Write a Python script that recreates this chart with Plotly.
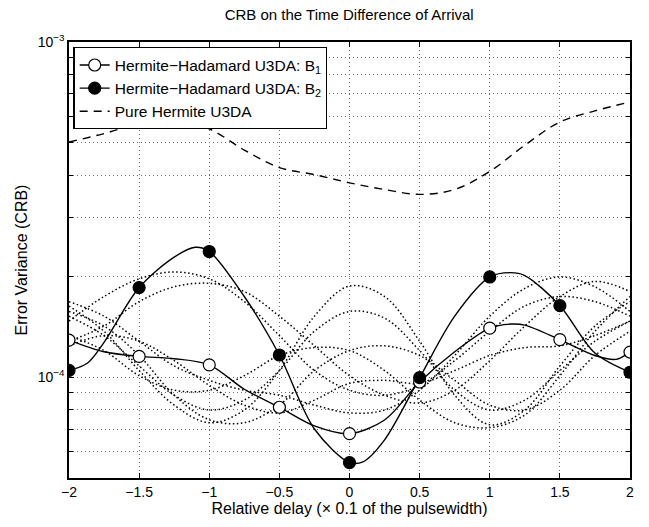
import plotly.graph_objects as go

# ---------------- data ----------------
x_fine = [-2, -1.75, -1.5, -1.25, -1, -0.75, -0.5, -0.25, 0, 0.25, 0.5, 0.75, 1, 1.25, 1.5, 1.75, 2]
x_mark = [-2, -1.5, -1, -0.5, 0, 0.5, 1, 1.5, 2]

# Hermite-Hadamard U3DA: B1 (curve and markers)
b1_x = [-2, -1.75, -1.5, -1.25, -1, -0.75, -0.5, -0.25, 0, 0.25, 0.5, 0.75, 1, 1.15, 1.25, 1.5, 1.75, 1.9, 2]
b1_y = [1.29e-4, 1.19e-4, 1.153e-4, 1.135e-4, 1.088e-4, 0.92e-4, 0.813e-4, 0.715e-4, 0.678e-4, 0.745e-4,
        0.967e-4, 1.19e-4, 1.40e-4, 1.44e-4, 1.43e-4, 1.294e-4, 1.16e-4, 1.13e-4, 1.188e-4]
b1_mark = [1.29e-4, 1.153e-4, 1.088e-4, 0.813e-4, 0.678e-4, 0.967e-4, 1.40e-4, 1.294e-4, 1.188e-4]

# Hermite-Hadamard U3DA: B2 (curve and markers)
b2_x = [-2, -1.87, -1.75, -1.5, -1.25, -1.1, -1, -0.75, -0.5, -0.25, 0, 0.1, 0.25, 0.5, 0.75, 1, 1.15, 1.25, 1.5, 1.75, 2]
b2_y = [1.047e-4, 1.10e-4, 1.27e-4, 1.85e-4, 2.28e-4, 2.44e-4, 2.37e-4, 1.74e-4, 1.164e-4, 0.70e-4, 0.556e-4,
        0.56e-4, 0.65e-4, 0.996e-4, 1.52e-4, 1.99e-4, 2.05e-4, 2.01e-4, 1.634e-4, 1.18e-4, 1.034e-4]
b2_mark = [1.047e-4, 1.85e-4, 2.37e-4, 1.164e-4, 0.556e-4, 0.996e-4, 1.99e-4, 1.634e-4, 1.034e-4]

# Pure Hermite U3DA (dashed)
ph_y = [5.03e-4, 5.33e-4, 5.71e-4, 5.90e-4, 5.51e-4, 4.76e-4, 4.22e-4, 4.02e-4, 3.80e-4, 3.63e-4,
        3.51e-4, 3.63e-4, 4.11e-4, 4.92e-4, 5.77e-4, 6.23e-4, 6.62e-4]

# dotted family of curves (values x 1e-4)
d1 = [1.47, 1.74, 1.965, 2.06, 1.965, 1.68, 1.33, 1.046, 0.914, 0.883, 0.945, 1.12, 1.37, 1.63, 1.74, 1.68, 1.52]
d2 = [1.28, 1.42, 1.68, 1.86, 1.905, 1.80, 1.52, 1.24, 1.01, 0.883, 0.837, 0.914, 1.12, 1.42, 1.74, 1.93, 1.80]
d3 = [1.63, 1.37, 1.046, 0.825, 0.731, 0.798, 1.046, 1.52, 1.87, 1.74, 1.28, 0.883, 0.721, 0.798, 1.08, 1.42, 1.68]
d4 = [1.52, 1.33, 1.08, 0.883, 0.798, 0.854, 1.046, 1.37, 1.57, 1.50, 1.20, 0.914, 0.798, 0.854, 1.046, 1.28, 1.47]
d5 = [1.57, 1.42, 1.16, 0.883, 0.746, 0.731, 0.825, 1.046, 1.20, 1.24, 1.16, 0.978, 0.825, 0.798, 0.914, 1.16, 1.37]
d6 = [1.24, 1.33, 1.28, 1.12, 0.945, 0.825, 0.782, 0.854, 0.958, 0.978, 0.958, 1.046, 1.16, 1.225, 1.24, 1.33, 1.47]
d7 = [1.33, 1.20, 1.01, 0.914, 0.914, 1.01, 1.16, 1.225, 1.20, 1.046, 0.854, 0.731, 0.707, 0.771, 1.01, 1.37, 1.74]
d8 = [1.68, 1.52, 1.28, 1.08, 0.978, 0.914, 0.883, 0.825, 0.782, 0.798, 0.914, 1.16, 1.52, 1.84, 1.99, 1.86, 1.57]
dotted = [d1, d2, d3, d4, d5, d6, d7, d8]

x_ticks = [-2, -1.5, -1, -0.5, 0, 0.5, 1, 1.5, 2]
x_ticktext = ["−2", "−1.5", "−1", "−0.5", "0", "0.5", "1", "1.5", "2"]
y_major = [1e-4, 1e-3]
y_major_text = ["10<sup>−4</sup>", "10<sup>−3</sup>"]
y_minor = [5e-5, 6e-5, 7e-5, 8e-5, 9e-5, 2e-4, 3e-4, 4e-4, 5e-4, 6e-4, 7e-4, 8e-4, 9e-4]

FONT = "Liberation Sans, Arial, Helvetica, sans-serif"
GRID_DASH = "1px,3px"
GRID_COLOR = "#6e6e6e"

fig = go.Figure()

for d in dotted:
    fig.add_trace(go.Scatter(x=x_fine, y=[v * 1e-4 for v in d], mode="lines",
                             line=dict(color="black", width=1.5, dash="1.5px,2.5px", shape="spline", smoothing=1.0),
                             showlegend=False, hoverinfo="skip"))

fig.add_trace(go.Scatter(x=x_fine, y=ph_y, mode="lines",
                         line=dict(color="black", width=1.4, dash="8px,6px", shape="spline"),
                         showlegend=False))

fig.add_trace(go.Scatter(x=b1_x, y=b1_y, mode="lines",
                         line=dict(color="black", width=1.4, shape="spline", smoothing=0.9),
                         showlegend=False))
fig.add_trace(go.Scatter(x=b2_x, y=b2_y, mode="lines",
                         line=dict(color="black", width=1.4, shape="spline", smoothing=0.9),
                         showlegend=False))

fig.add_trace(go.Scatter(x=x_mark, y=b1_mark, mode="markers",
                         marker=dict(size=12, color="white", line=dict(color="black", width=1.2)),
                         showlegend=False))
fig.add_trace(go.Scatter(x=x_mark, y=b2_mark, mode="markers",
                         marker=dict(size=12, color="black", line=dict(color="black", width=1.2)),
                         showlegend=False))

# legend entries
fig.add_trace(go.Scatter(x=[None], y=[None], mode="lines+markers",
                         name="Hermite−Hadamard U3DA: B<sub>1</sub>",
                         line=dict(color="black", width=1.4),
                         marker=dict(size=12, color="white", line=dict(color="black", width=1.2))))
fig.add_trace(go.Scatter(x=[None], y=[None], mode="lines+markers",
                         name="Hermite−Hadamard U3DA: B<sub>2</sub>",
                         line=dict(color="black", width=1.4),
                         marker=dict(size=12, color="black", line=dict(color="black", width=1.2))))
fig.add_trace(go.Scatter(x=[None], y=[None], mode="lines",
                         name="Pure Hermite U3DA",
                         line=dict(color="black", width=1.4, dash="8px,6px")))

fig.update_layout(
    width=649, height=527,
    margin=dict(l=69, r=19, t=42, b=43),
    paper_bgcolor="white", plot_bgcolor="white",
    font=dict(family=FONT, size=14, color="black"),
    title=dict(text="CRB on the Time Difference of Arrival", x=0.538, xanchor="center",
               y=0.972, yanchor="middle", yref="container", font=dict(size=15)),
    showlegend=True,
    legend=dict(x=0.008, y=0.988, xanchor="left", yanchor="top", bgcolor="white",
                bordercolor="black", borderwidth=1.2, font=dict(size=15.5),
                tracegroupgap=0, itemwidth=30),
)

fig.update_xaxes(range=[-2, 2], tickvals=x_ticks, ticktext=x_ticktext,
                 showline=True, linecolor="black", linewidth=1.5, mirror="allticks",
                 ticks="inside", ticklen=5, tickcolor="black",
                 showgrid=True, gridcolor=GRID_COLOR, griddash=GRID_DASH, gridwidth=1, zeroline=False,
                 title=dict(text="Relative delay (× 0.1 of the pulsewidth)", standoff=4,
                            font=dict(size=16)),
                 tickfont=dict(size=14))

fig.update_yaxes(type="log", range=[-4.30103, -3], tickvals=y_major, ticktext=y_major_text,
                 showline=True, linecolor="black", linewidth=1.5, mirror="allticks",
                 ticks="inside", ticklen=5, tickcolor="black",
                 showgrid=True, gridcolor=GRID_COLOR, griddash=GRID_DASH, gridwidth=1, zeroline=False,
                 minor=dict(tickmode="array", tickvals=y_minor, ticks="inside", ticklen=4,
                            tickcolor="black", showgrid=True, gridcolor=GRID_COLOR,
                            griddash=GRID_DASH, gridwidth=1),
                 title=dict(text="Error Variance (CRB)", standoff=6, font=dict(size=16)),
                 tickfont=dict(size=14))

fig.write_html("out.html")
